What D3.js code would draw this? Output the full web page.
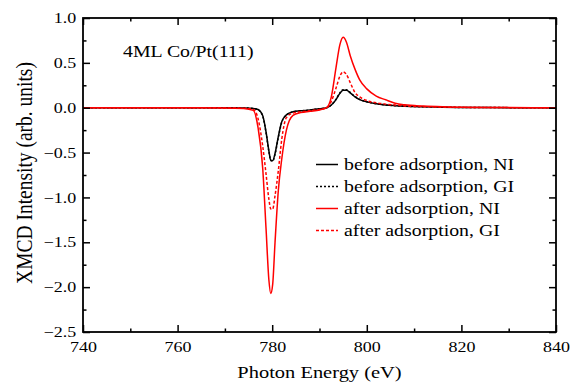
<!DOCTYPE html>
<html>
<head>
<meta charset="utf-8">
<script src="https://cdn.jsdelivr.net/npm/d3@7"></script>
<style>
  html, body { margin: 0; padding: 0; background: #fff; }
  text { font-family: "Liberation Serif", "Times New Roman", serif; fill: #000; }
</style>
</head>
<body>
<div id="chart"></div>
<script>
// photon energy grid (eV)
const energy = [740, 750, 760, 770, 774, 776, 777, 778, 778.7, 779.3, 779.7, 780.1, 780.6,
  781.3, 782, 783, 784.4, 786, 788, 790, 791.5, 792.5, 793.5, 794.3, 795, 795.7, 796.5,
  797.5, 798.5, 800, 802, 804, 806, 808, 812, 816, 820, 830, 840];

const beforeNI = [0, 0, 0, 0, -0.003, -0.008, -0.02, -0.09, -0.27, -0.48, -0.585, -0.59, -0.51,
  -0.32, -0.16, -0.08, -0.045, -0.035, -0.025, -0.012, 0.0, 0.03, 0.09, 0.16, 0.195, 0.195, 0.165,
  0.12, 0.09, 0.065, 0.045, 0.03, 0.022, 0.016, 0.01, 0.006, 0.003, 0.001, 0];

const beforeGI = [0, 0, 0, 0, -0.003, -0.009, -0.022, -0.095, -0.28, -0.49, -0.59, -0.595, -0.52,
  -0.33, -0.165, -0.082, -0.047, -0.036, -0.026, -0.013, 0.0, 0.03, 0.095, 0.165, 0.2, 0.2, 0.17,
  0.125, 0.093, 0.067, 0.046, 0.031, 0.023, 0.017, 0.011, 0.006, 0.003, 0.001, 0];

const afterNI = [0, 0, 0, -0.002, -0.008, -0.03, -0.22, -0.68, -1.35, -1.92, -2.07, -1.97, -1.5,
  -0.92, -0.58, -0.25, -0.085, -0.055, -0.04, -0.025, 0.0, 0.12, 0.45, 0.70, 0.785, 0.73, 0.58,
  0.43, 0.31, 0.21, 0.13, 0.088, 0.05, 0.032, 0.018, 0.01, 0.005, 0.002, 0];

const afterGI = [0, 0, 0, -0.002, -0.006, -0.02, -0.12, -0.43, -0.74, -1.02, -1.13, -1.13, -0.98,
  -0.7, -0.36, -0.11, -0.06, -0.045, -0.033, -0.02, 0.0, 0.07, 0.22, 0.35, 0.40, 0.37, 0.28,
  0.17, 0.12, 0.08, 0.055, 0.04, 0.03, 0.02, 0.012, 0.007, 0.004, 0.001, 0];

const seriesNames = ['before adsorption, NI', 'before adsorption, GI', 'after adsorption, NI', 'after adsorption, GI'];
const seriesValues = [beforeNI, beforeGI, afterNI, afterGI];
const seriesColors = ['#000000', '#000000', '#ff0000', '#ff0000'];
const seriesDash = [null, '2 2', null, '3 2'];

const xTicks = [740, 760, 780, 800, 820, 840];
const xMinor = [750, 770, 790, 810, 830];
const yTicks = [1.0, 0.5, 0.0, -0.5, -1.0, -1.5, -2.0, -2.5];
const yMinor = [0.75, 0.25, -0.25, -0.75, -1.25, -1.75, -2.25];

const width = 575;
const height = 383;
const plotLeft = 83, plotRight = 556, plotTop = 18, plotBottom = 332;
const stretch = 1.24; // glyphs in the reference are wider than tall

const svg = d3.select('#chart')
  .append('svg')
  .attr('width', width)
  .attr('height', height)
  .attr('viewBox', [0, 0, width, height]);

svg.append('rect').attr('width', width).attr('height', height).attr('fill', '#fff');

const x = d3.scaleLinear().domain([740, 840]).range([plotLeft, plotRight]);
const y = d3.scaleLinear().domain([-2.5, 1.0]).range([plotBottom, plotTop]);

// curves
const line = d3.line()
  .x((d, i) => x(energy[i]))
  .y((d) => y(d))
  .curve(d3.curveMonotoneX);

const order = [0, 1, 3, 2];
svg.append('g')
  .selectAll('path')
  .data(order)
  .join('path')
  .attr('fill', 'none')
  .attr('stroke', (k) => seriesColors[k])
  .attr('stroke-width', 1.5)
  .attr('stroke-dasharray', (k) => seriesDash[k])
  .attr('d', (k) => line(seriesValues[k]));

// axes, ticks pointing inward
const fmt = d3.format('.1f');
const styleAxis = (g) => {
  g.select('.domain').remove();
  g.selectAll('.tick line').attr('stroke', '#000').attr('stroke-width', 1.5);
  g.selectAll('text').attr('font-size', 14.5);
};

const xb = svg.append('g')
  .attr('transform', `translate(0,${plotBottom})`)
  .call(d3.axisBottom(x).tickValues(xTicks).tickSize(-7).tickSizeOuter(0).tickPadding(10).tickFormat(d3.format('d')))
  .call(styleAxis);
xb.selectAll('text').attr('transform', `scale(${stretch},1)`);

svg.append('g')
  .attr('transform', `translate(0,${plotBottom})`)
  .call(d3.axisBottom(x).tickValues(xMinor).tickSize(-3.5).tickSizeOuter(0).tickFormat(''))
  .call(styleAxis);

svg.append('g')
  .attr('transform', `translate(0,${plotTop})`)
  .call(d3.axisTop(x).tickValues(xTicks).tickSize(-7).tickSizeOuter(0).tickFormat(''))
  .call(styleAxis);
svg.append('g')
  .attr('transform', `translate(0,${plotTop})`)
  .call(d3.axisTop(x).tickValues(xMinor).tickSize(-3.5).tickSizeOuter(0).tickFormat(''))
  .call(styleAxis);

const yl = svg.append('g')
  .attr('transform', `translate(${plotLeft},0)`)
  .call(d3.axisLeft(y).tickValues(yTicks).tickSize(-7).tickSizeOuter(0).tickPadding(5.5).tickFormat(fmt))
  .call(styleAxis);
yl.selectAll('text').attr('transform', `scale(${stretch},1)`);

svg.append('g')
  .attr('transform', `translate(${plotLeft},0)`)
  .call(d3.axisLeft(y).tickValues(yMinor).tickSize(-3.5).tickSizeOuter(0).tickFormat(''))
  .call(styleAxis);
svg.append('g')
  .attr('transform', `translate(${plotRight},0)`)
  .call(d3.axisRight(y).tickValues(yTicks).tickSize(-7).tickSizeOuter(0).tickFormat(''))
  .call(styleAxis);
svg.append('g')
  .attr('transform', `translate(${plotRight},0)`)
  .call(d3.axisRight(y).tickValues(yMinor).tickSize(-3.5).tickSizeOuter(0).tickFormat(''))
  .call(styleAxis);

// frame
svg.append('rect')
  .attr('x', plotLeft)
  .attr('y', plotTop)
  .attr('width', plotRight - plotLeft)
  .attr('height', plotBottom - plotTop)
  .attr('fill', 'none')
  .attr('stroke', '#000')
  .attr('stroke-width', 1.8);

// axis titles
svg.append('text')
  .attr('transform', `translate(${(plotLeft + plotRight) / 2},378) scale(${stretch},1)`)
  .attr('text-anchor', 'middle')
  .attr('font-size', 16.5)
  .text('Photon Energy (eV)');

svg.append('text')
  .attr('transform', `translate(32,${(plotTop + plotBottom) / 2 - 2}) scale(1.2,1) rotate(-90)`)
  .attr('text-anchor', 'middle')
  .attr('font-size', 19.5)
  .text('XMCD Intensity (arb. units)');

// sample label
svg.append('text')
  .attr('transform', `translate(123,57) scale(${stretch},1)`)
  .attr('font-size', 16)
  .text('4ML Co/Pt(111)');

// legend
const legend = svg.append('g')
  .selectAll('g')
  .data(seriesNames)
  .join('g')
  .attr('transform', (d, i) => `translate(316,${164.5 + i * 22})`);

legend.append('line')
  .attr('x1', 0)
  .attr('x2', 22)
  .attr('stroke', (d, i) => seriesColors[i])
  .attr('stroke-width', 1.5)
  .attr('stroke-dasharray', (d, i) => seriesDash[i]);

legend.append('text')
  .attr('transform', `translate(28,5) scale(${stretch},1)`)
  .attr('font-size', 16)
  .text((d) => d);
</script>
</body>
</html>
